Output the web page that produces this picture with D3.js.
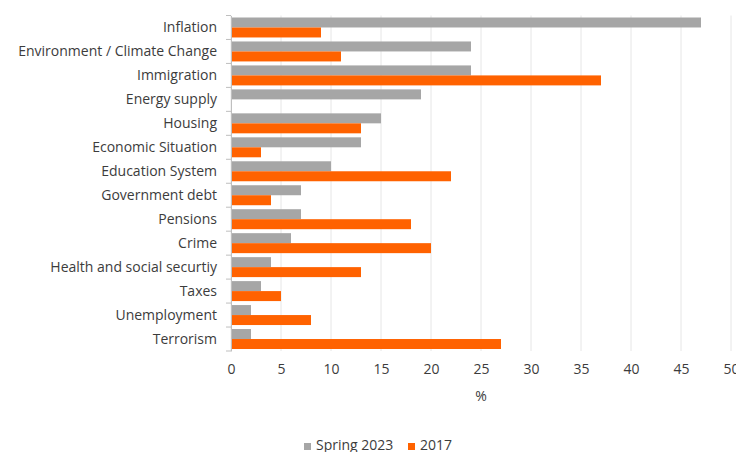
<!DOCTYPE html>
<html>
<head>
<meta charset="utf-8">
<script src="https://cdn.jsdelivr.net/npm/d3@7"></script>
<style>
  html, body { margin: 0; padding: 0; background: #fff; }
  svg { display: block; }
</style>
</head>
<body>
<svg id="chart" width="736" height="452"></svg>
<script>
// Concerns named by respondents, share in %
const categories = [
  "Inflation", "Environment / Climate Change", "Immigration", "Energy supply",
  "Housing", "Economic Situation", "Education System", "Government debt",
  "Pensions", "Crime", "Health and social securtiy", "Taxes",
  "Unemployment", "Terrorism"
];
const spring2023 = [47, 24, 24, 19, 15, 13, 10, 7, 7, 6, 4, 3, 2, 2];
const year2017   = [9, 11, 37, 0, 13, 3, 22, 4, 18, 20, 13, 5, 8, 27];
const seriesNames = ["Spring 2023", "2017"];
const xTicks = [0, 5, 10, 15, 20, 25, 30, 35, 40, 45, 50];

const colors = ["#A6A6A6", "#FF6200"];
const textColor = "#3c3c3c";
const fontFamily = "'Open Sans', 'Noto Sans', sans-serif";
const fontSize = 14;

const svg = d3.select("#chart")
  .attr("font-family", fontFamily)
  .attr("font-size", fontSize);

const x = d3.scaleLinear().domain([0, 50]).range([231, 731]);
const y = d3.scaleBand().domain(categories).range([15.5, 351]).paddingInner(0).paddingOuter(0);
const inner = d3.scaleBand().domain([0, 1]).range([0, y.bandwidth()]).paddingInner(0).paddingOuter(0.2);

// vertical gridlines
svg.append("g")
  .selectAll("line")
  .data(xTicks)
  .join("line")
  .attr("x1", d => x(d)).attr("x2", d => x(d))
  .attr("y1", y.range()[0]).attr("y2", y.range()[1])
  .attr("stroke", "#e6e6e6").attr("stroke-width", 1);

// bars
const series = [spring2023, year2017];
series.forEach((vals, si) => {
  svg.append("g")
    .selectAll("rect")
    .data(categories.map((c, i) => ({ c, v: vals[i] })))
    .join("rect")
    .attr("x", x(0))
    .attr("y", d => y(d.c) + inner(si))
    .attr("width", d => x(d.v) - x(0))
    .attr("height", inner.bandwidth())
    .attr("fill", colors[si]);
});

// category axis
const yAxis = svg.append("g")
  .attr("transform", `translate(${x(0)},0)`)
  .call(d3.axisLeft(y).tickSize(0).tickPadding(14))
  .attr("font-family", fontFamily)
  .attr("font-size", fontSize);
yAxis.select(".domain").attr("stroke", "#bfbfbf");
yAxis.selectAll("text").attr("fill", textColor);
// tick marks on band boundaries
svg.append("g")
  .selectAll("line")
  .data(categories.map(c => y(c)).concat([y.range()[1]]))
  .join("line")
  .attr("x1", x(0) - 5).attr("x2", x(0))
  .attr("y1", d => d).attr("y2", d => d)
  .attr("stroke", "#bfbfbf");

// value axis labels
const xAxis = svg.append("g")
  .attr("transform", `translate(0,${y.range()[1]})`)
  .call(d3.axisBottom(x).tickValues(xTicks).tickSize(0).tickPadding(13))
  .attr("font-family", fontFamily)
  .attr("font-size", fontSize);
xAxis.select(".domain").remove();
xAxis.selectAll("text").attr("fill", textColor);

svg.append("text")
  .attr("x", x(25)).attr("y", 401)
  .attr("text-anchor", "middle")
  .attr("fill", textColor)
  .text("%");

// legend
const legend = svg.append("g").attr("transform", "translate(304,450)");
const legendX = [0, 104];
seriesNames.forEach((name, i) => {
  const g = legend.append("g").attr("transform", `translate(${legendX[i]},0)`);
  g.append("rect").attr("x", 0).attr("y", -7).attr("width", 7).attr("height", 7).attr("fill", colors[i]);
  g.append("text").attr("x", 12).attr("y", 0)
    .attr("fill", textColor).text(name);
});
</script>
</body>
</html>
